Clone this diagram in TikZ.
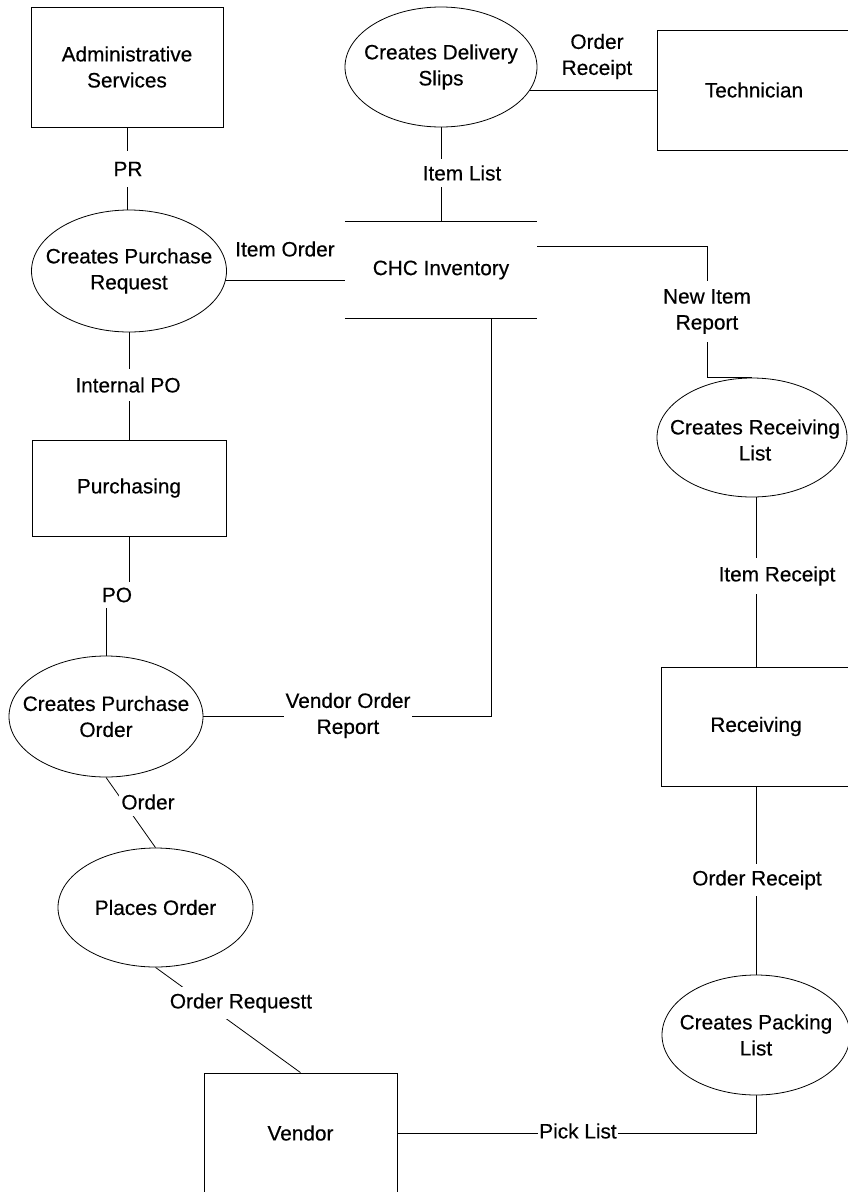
\documentclass[tikz,border=0pt]{standalone}
\usepackage{fontspec}
\setmainfont{Liberation Sans}[FakeBold=0.4]
\usetikzlibrary{shapes.geometric,backgrounds,calc}
\begin{document}
\begin{tikzpicture}[x=1pt,y=-1pt,
  every node/.style={font=\fontsize{20.8}{26}\selectfont},
  line/.style={draw, line width=0.8pt},
  proc/.style={ellipse, draw, fill=white, line width=0.8pt, inner sep=0pt},
  ent/.style={rectangle, draw, fill=white, line width=0.8pt, align=center},
  txt/.style={align=center, inner sep=0pt},
  lbl/.style={fill=white, align=center, inner xsep=2pt, inner ysep=6pt}]
\useasboundingbox (0,0) rectangle (848,1192);
\clip (0,0) rectangle (848,1192);

% entities and processes
\node[ent, minimum width=192pt, minimum height=120pt] (admin) at (127,67) {Administrative\\Services};
\node[proc, minimum width=192pt, minimum height=120pt] (cds) at (441,67) {};
\node[txt] (cdst) at (cds) {Creates Delivery\\Slips};
\node[ent, minimum width=194pt, minimum height=120pt] (tech) at (754,90) {Technician};
\node[proc, minimum width=195pt, minimum height=122pt] (cpr) at (129,271) {};
\node[txt] (cprt) at (cpr) {Creates Purchase\\Request};
\node[minimum width=192pt, minimum height=96pt, inner sep=0pt] (inv) at (441,270) {CHC Inventory};
\node[ent, minimum width=194pt, minimum height=96pt] (purch) at (129,488) {Purchasing};
\node[proc, minimum width=190pt, minimum height=119pt] (crl) at (752,437.5) {};
\node[txt] (crlt) at (755,440) {Creates Receiving\\List};
\node[proc, minimum width=194pt, minimum height=121pt] (cpo) at (106,716.5) {};
\node[txt] (cpot) at (cpo) {Creates Purchase\\Order};
\node[ent, minimum width=190pt, minimum height=119pt] (recv) at (756,726.5) {Receiving};
\node[proc, minimum width=195pt, minimum height=119pt] (po) at (155.5,907.5) {};
\node[txt] (pot) at (po) {Places Order};
\node[proc, minimum width=188pt, minimum height=120pt] (cpl) at (756,1035) {};
\node[txt] (cplt) at (cpl) {Creates Packing\\List};
\node[ent, minimum width=193pt, minimum height=120pt] (vendor) at (300.5,1133) {Vendor};

% data store lines
\draw[line] (inv.north west) -- (inv.north east);
\draw[line] (inv.south west) -- (inv.south east);
\coordinate (io) at (inv.west |- 0,280);

% connectors
\begin{scope}[on background layer]
\draw[line] (admin) -- (admin |- cpr);
\draw[line] (cds) -- (cds |- inv.north);
\draw[line] (cds.center |- tech.west) -- (tech.west);
\draw[line] (cpr.center |- io) -- (io);
\draw[line] (cpr) -- (purch);
\draw[line] (purch.south) -- ++(0,59) -| (cpo.north);
\draw[line] (inv.north east) ++(0,25) -| ($(crl.north)+(-45,0)$) -- (crl.north);
\draw[line] ($(inv.south east)+(-46,0)$) |- (cpo);
\draw[line] (recv |- crl) -- (recv);
\draw[line] (recv) -- (cpl);
\draw[line] (cpl) |- (vendor);
\draw[line] (cpo.south) -- (po.north);
\draw[line] (po.south) -- (vendor.north);
\end{scope}

% labels
\node[lbl, inner ysep=11pt] (lpr) at (128,169) {PR};
\node[lbl] (lil) at (462,173) {Item List};
\node[txt] (lio) at (285,249) {Item Order};
\node[txt] (lor1) at (597,56.5) {Order\\Receipt};
\node[lbl, inner ysep=8pt] (lnir) at (707,311.5) {New Item\\Report};
\node[lbl, inner ysep=8pt] (lipo) at (128,385) {Internal PO};
\node[lbl] (lpo) at (117,595) {PO};
\node[lbl, inner ysep=8pt] (lir) at (777,576) {Item Receipt};
\node[lbl] (lvor) at (348,715.5) {Vendor Order\\Report};
\node[lbl] (lord) at (148,802) {Order};
\node[lbl] (lor2) at (757,880) {Order Receipt};
\node[lbl] (lreq) at (241,1003) {Order Requestt};
\node[lbl, inner xsep=1pt] (lpl) at (578,1131) {Pick List};
\end{tikzpicture}
\end{document}
